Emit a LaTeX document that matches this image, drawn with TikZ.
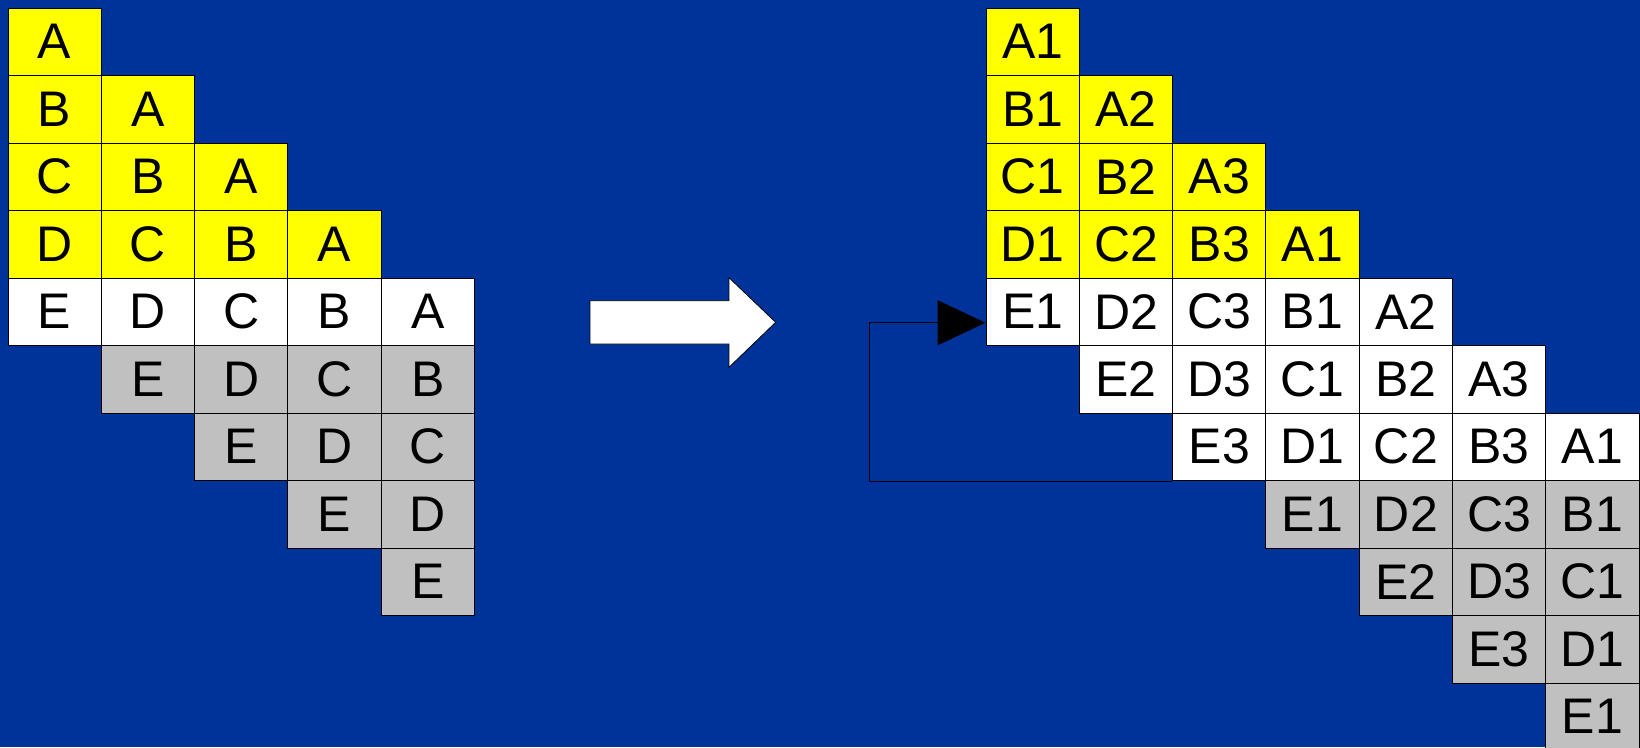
\documentclass[tikz,border=0pt]{standalone}
\usepackage{fontspec}
\setmainfont{Liberation Sans}
\usetikzlibrary{arrows.meta}
\definecolor{bgblue}{RGB}{0,51,153}
\definecolor{cellyellow}{RGB}{255,255,0}
\definecolor{cellgrey}{RGB}{192,192,192}
\tikzset{
  cell/.style={draw=black, line width=1pt, minimum width=93.3pt, minimum height=67.5pt,
    inner sep=0pt, anchor=center, font=\fontsize{50}{60}\selectfont},
  bigarrow/.style={fill=white, draw=black, line width=0.8pt, line join=miter},
  loopline/.style={draw=black, line width=1pt, -{Triangle[length=48pt,width=45pt]}}
}
\newcommand{\letterof}[1]{\ifcase#1 A\or B\or C\or D\or E\fi}
\begin{document}
\begin{tikzpicture}[x=1pt,y=-1pt]
\fill[bgblue] (0,0) rectangle (1640,747);
\useasboundingbox (0,0) rectangle (1640,747);

% left schedule: five rows shifted one column per step
\foreach \r in {0,...,8}{
  \foreach \c in {0,...,4}{
    \pgfmathtruncatemacro{\d}{\r-\c}
    \ifnum\d>-1 \ifnum\d<5
      \ifnum\r<4 \def\cellcol{cellyellow}\else
        \ifnum\r=4 \def\cellcol{white}\else \def\cellcol{cellgrey}\fi\fi
      \pgfmathsetmacro{\cx}{8+93.3*\c+46.65}
      \pgfmathsetmacro{\cy}{8+67.5*\r+33.75}
      \node[cell, fill=\cellcol] (L\r-\c) at (\cx,\cy) {\letterof{\d}};
    \fi\fi
  }
}

% right schedule: three banks, recycled in a loop
\foreach \r in {0,...,10}{
  \foreach \c in {0,...,6}{
    \pgfmathtruncatemacro{\d}{\r-\c}
    \pgfmathtruncatemacro{\n}{mod(\c,3)+1}
    \ifnum\d>-1 \ifnum\d<5
      \ifnum\r<4 \def\cellcol{cellyellow}\else
        \ifnum\r<7 \def\cellcol{white}\else \def\cellcol{cellgrey}\fi\fi
      \pgfmathsetmacro{\cx}{986+93.3*\c+46.65}
      \pgfmathsetmacro{\cy}{8+67.5*\r+33.75}
      \node[cell, fill=\cellcol] (R\r-\c) at (\cx,\cy) {\letterof{\d}\n};
    \fi\fi
  }
}

% block arrow between the two schedules
\draw[bigarrow] (590,300.7) -- (729,300.7) -- (729,277.7) -- (775.7,322.3)
  -- (729,367.3) -- (729,344) -- (590,344) -- cycle;

% feedback from the last white row back to the first
\draw[loopline] (R6-2.south west) -- ++(-302.7,0) coordinate (turn)
  |- ([yshift=-11pt]R4-0.west);
\end{tikzpicture}
\end{document}
